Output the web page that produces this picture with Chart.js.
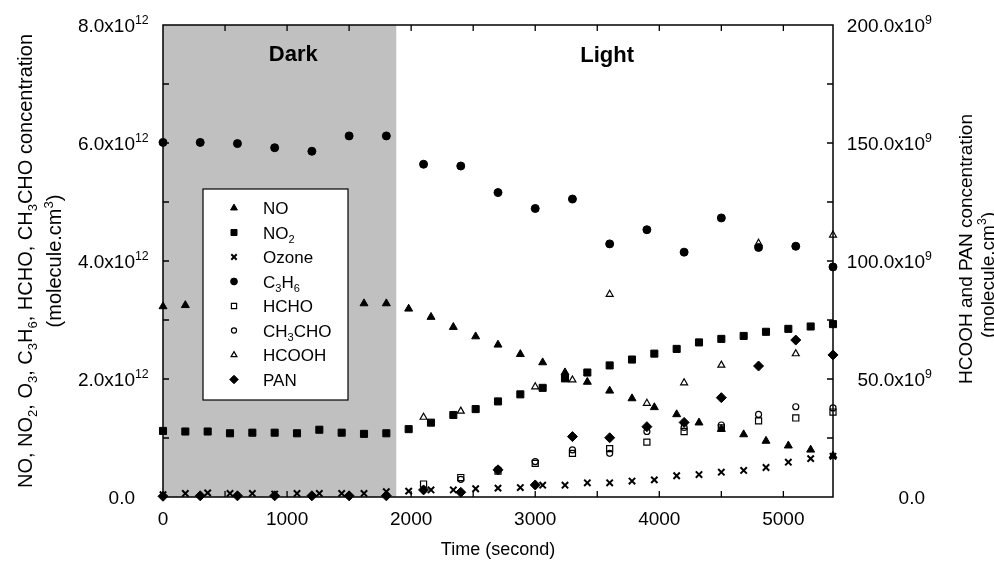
<!DOCTYPE html>
<html>
<head>
<meta charset="utf-8">
<script src="https://cdn.jsdelivr.net/npm/chart.js@4.4.1/dist/chart.umd.min.js"></script>
<style>
  html, body { margin: 0; padding: 0; background: #fff; }
</style>
</head>
<body>
<canvas id="chart" width="994" height="564"></canvas>
<script>
// times (s)
const timeNO = [0, 180, 1620, 1800, 1980, 2160, 2340, 2520, 2700, 2880, 3060, 3240, 3420, 3600, 3780, 3960, 4140, 4320, 4500, 4680, 4860, 5040, 5220, 5400];
const time180 = [0, 180, 360, 540, 720, 900, 1080, 1260, 1440, 1620, 1800, 1980, 2160, 2340, 2520, 2700, 2880, 3060, 3240, 3420, 3600, 3780, 3960, 4140, 4320, 4500, 4680, 4860, 5040, 5220, 5400];
const time300 = [0, 300, 600, 900, 1200, 1500, 1800, 2100, 2400, 2700, 3000, 3300, 3600, 3900, 4200, 4500, 4800, 5100, 5400];
const timeHCHO = [2100, 2400, 2700, 3000, 3300, 3600, 3900, 4200, 4500, 4800, 5100, 5400];
const timeCH3CHO = [2400, 2700, 3000, 3300, 3600, 3900, 4200, 4500, 4800, 5100, 5400];
const timeHCOOH = [2100, 2400, 3000, 3300, 3600, 3900, 4200, 4500, 4800, 5100, 5400];

// left axis, molecule/cm3
const no = [3.23e12, 3.25e12, 3.28e12, 3.28e12, 3.19e12, 3.05e12, 2.88e12, 2.72e12, 2.58e12, 2.42e12, 2.28e12, 2.11e12, 1.95e12, 1.80e12, 1.67e12, 1.52e12, 1.40e12, 1.26e12, 1.15e12, 1.06e12, 0.95e12, 0.87e12, 0.80e12, 0.70e12];
const no2 = [1.12e12, 1.11e12, 1.11e12, 1.08e12, 1.09e12, 1.09e12, 1.08e12, 1.14e12, 1.09e12, 1.07e12, 1.08e12, 1.15e12, 1.26e12, 1.39e12, 1.49e12, 1.62e12, 1.74e12, 1.85e12, 2.01e12, 2.11e12, 2.23e12, 2.33e12, 2.43e12, 2.51e12, 2.62e12, 2.68e12, 2.73e12, 2.80e12, 2.85e12, 2.89e12, 2.93e12];
const ozone = [0.04e12, 0.06e12, 0.07e12, 0.06e12, 0.06e12, 0.05e12, 0.06e12, 0.06e12, 0.06e12, 0.06e12, 0.09e12, 0.10e12, 0.12e12, 0.12e12, 0.14e12, 0.15e12, 0.16e12, 0.20e12, 0.20e12, 0.24e12, 0.24e12, 0.27e12, 0.29e12, 0.36e12, 0.38e12, 0.42e12, 0.45e12, 0.50e12, 0.59e12, 0.65e12, 0.69e12];
const c3h6 = [6.01e12, 6.01e12, 5.99e12, 5.92e12, 5.86e12, 6.12e12, 6.12e12, 5.64e12, 5.61e12, 5.16e12, 4.89e12, 5.05e12, 4.29e12, 4.53e12, 4.15e12, 4.73e12, 4.23e12, 4.25e12, 3.90e12];
const hcho = [0.22e12, 0.33e12, 0.44e12, 0.57e12, 0.74e12, 0.82e12, 0.93e12, 1.11e12, 1.17e12, 1.29e12, 1.34e12, 1.44e12];
const ch3cho = [0.30e12, 0.47e12, 0.60e12, 0.80e12, 0.74e12, 1.11e12, 1.18e12, 1.22e12, 1.40e12, 1.53e12, 1.51e12];

// right axis, molecule/cm3
const hcooh = [33.8e9, 36.4e9, 46.7e9, 49.6e9, 85.9e9, 39.7e9, 48.4e9, 55.9e9, 107.5e9, 60.7e9, 111e9];
const pan = [0.3e9, 0.5e9, 0.5e9, 0.5e9, 0.5e9, 0.5e9, 0.5e9, 3.0e9, 2.0e9, 11.5e9, 5.1e9, 25.6e9, 25.1e9, 29.8e9, 31.6e9, 42.1e9, 55.5e9, 66.5e9, 60.2e9];

const darkEnd = 1880;
const xTicks = [0, 1000, 2000, 3000, 4000, 5000];
const yTicks = [0, 2e12, 4e12, 6e12, 8e12];
const yTickText = [['0.0', ''], ['2.0x10', '12'], ['4.0x10', '12'], ['6.0x10', '12'], ['8.0x10', '12']];
const y2Ticks = [0, 50e9, 100e9, 150e9, 200e9];
const y2TickText = [['0.0', ''], ['50.0x10', '9'], ['100.0x10', '9'], ['150.0x10', '9'], ['200.0x10', '9']];

// legend labels: [text, 'sub'|'sup'|'']
const legendNames = [
  [['NO', '']],
  [['NO', ''], ['2', 'sub']],
  [['Ozone', '']],
  [['C', ''], ['3', 'sub'], ['H', ''], ['6', 'sub']],
  [['HCHO', '']],
  [['CH', ''], ['3', 'sub'], ['CHO', '']],
  [['HCOOH', '']],
  [['PAN', '']]
];

const FONT = '"Liberation Sans", Arial, Helvetica, sans-serif';

function series(label, xs, ys, style, r, filled, axis, bw) {
  return {
    label: label,
    data: xs.map((t, i) => ({ x: t, y: ys[i] })),
    yAxisID: axis,
    pointStyle: style,
    pointRadius: r,
    pointBackgroundColor: filled ? '#000' : 'rgba(0,0,0,0)',
    pointBorderColor: '#000',
    pointBorderWidth: bw,
    showLine: false,
    clip: false
  };
}

// text made of pieces with sub/superscripts, from x (left), baseline y
function richWidth(ctx, parts, size) {
  let w = 0;
  parts.forEach(p => {
    ctx.font = (p[1] ? size * 0.65 : size) + 'px ' + FONT;
    w += ctx.measureText(p[0]).width;
  });
  return w;
}
function drawRich(ctx, parts, x, y, size, weight) {
  ctx.textAlign = 'left';
  ctx.textBaseline = 'alphabetic';
  parts.forEach(p => {
    const s = p[1] ? size * 0.65 : size;
    ctx.font = (weight || '') + ' ' + s + 'px ' + FONT;
    let dy = 0;
    if (p[1] === 'sub') dy = size * 0.25;
    if (p[1] === 'sup') dy = -size * 0.42;
    ctx.fillText(p[0], x, y + dy);
    x += ctx.measureText(p[0]).width;
  });
}
function drawRichCentered(ctx, parts, cx, cy, size, rotate) {
  ctx.save();
  ctx.translate(cx, cy);
  if (rotate) ctx.rotate(-Math.PI / 2);
  const w = richWidth(ctx, parts, size);
  drawRich(ctx, parts, -w / 2, size * 0.36, size);
  ctx.restore();
}

const framePlugin = {
  id: 'framePlugin',
  beforeDatasetsDraw(chart) {
    const { ctx, chartArea: a, scales } = chart;
    ctx.save();
    ctx.fillStyle = '#c0c0c0';
    const xe = scales.x.getPixelForValue(darkEnd);
    ctx.fillRect(a.left, a.top, xe - a.left, a.bottom - a.top);
    ctx.restore();
  },
  afterDatasetsDraw(chart) {
    const { ctx, chartArea: a, scales } = chart;
    const x = scales.x, y = scales.y, y2 = scales.y2;
    ctx.save();

    // legend box (covers points behind it, like the original)
    const lx = a.left + 40, ly = a.top + 164, lw = 145, lh = 211;
    ctx.fillStyle = '#fff';
    ctx.fillRect(lx, ly, lw, lh);
    ctx.strokeStyle = '#000';
    ctx.lineWidth = 1.2;
    ctx.strokeRect(lx, ly, lw, lh);
    chart.data.datasets.forEach((ds, i) => {
      const ry = ly + 19 + i * 24.5;
      ctx.fillStyle = ds.pointBackgroundColor;
      ctx.strokeStyle = '#000';
      ctx.lineWidth = ds.pointBorderWidth;
      Chart.helpers.drawPoint(ctx, { pointStyle: ds.pointStyle, radius: ds.pointRadius * 0.85, borderWidth: ds.pointBorderWidth, rotation: 0 }, lx + 31, ry);
      ctx.fillStyle = '#000';
      drawRich(ctx, legendNames[i], lx + 60, ry + 6, 17);
    });

    // frame
    ctx.strokeStyle = '#000';
    ctx.lineWidth = 1.5;
    ctx.strokeRect(a.left, a.top, a.right - a.left, a.bottom - a.top);

    // inward ticks
    ctx.lineWidth = 1.3;
    ctx.beginPath();
    for (let v = 500; v < 5400; v += 500) {
      const px = x.getPixelForValue(v);
      ctx.moveTo(px, a.bottom); ctx.lineTo(px, a.bottom - 6);
      ctx.moveTo(px, a.top); ctx.lineTo(px, a.top + 6);
    }
    for (let v = 1e12; v < 8e12; v += 1e12) {
      const py = y.getPixelForValue(v);
      ctx.moveTo(a.left, py); ctx.lineTo(a.left + 6, py);
    }
    for (let v = 25e9; v < 200e9; v += 25e9) {
      const py = y2.getPixelForValue(v);
      ctx.moveTo(a.right, py); ctx.lineTo(a.right - 6, py);
    }
    ctx.stroke();

    // tick labels
    ctx.fillStyle = '#000';
    const ts = 19;
    xTicks.forEach(v => {
      const t = String(v);
      ctx.font = ts + 'px ' + FONT;
      const w = ctx.measureText(t).width;
      drawRich(ctx, [[t, '']], x.getPixelForValue(v) - w / 2, 525, ts);
    });
    yTicks.forEach((v, i) => {
      const base = yTickText[i];
      ctx.font = ts + 'px ' + FONT;
      const w = ctx.measureText(base[0]).width;
      const py = y.getPixelForValue(v) + 7;
      drawRich(ctx, [[base[0], ''], [base[1], 'sup']], a.left - 28 - w, py, ts);
    });
    y2Ticks.forEach((v, i) => {
      const base = y2TickText[i];
      ctx.font = ts + 'px ' + FONT;
      const w = ctx.measureText(base[0]).width;
      const py = y2.getPixelForValue(v) + 7;
      drawRich(ctx, [[base[0], ''], [base[1], 'sup']], 925 - w, py, ts);
    });

    // region labels
    ctx.font = 'bold 22px ' + FONT;
    ctx.textAlign = 'center';
    ctx.textBaseline = 'middle';
    ctx.fillText('Dark', x.getPixelForValue(1050), y.getPixelForValue(7.5e12));
    ctx.fillText('Light', x.getPixelForValue(3580), y.getPixelForValue(7.48e12));

    // axis titles
    const cyPlot = (a.top + a.bottom) / 2;
    drawRichCentered(ctx, [['Time (second)', '']], (a.left + a.right) / 2, 549, 18, false);
    drawRichCentered(ctx, [['NO, NO', ''], ['2', 'sub'], [', O', ''], ['3', 'sub'], [', C', ''], ['3', 'sub'], ['H', ''], ['6', 'sub'], [', HCHO, CH', ''], ['3', 'sub'], ['CHO concentration', '']], 25, cyPlot, 20, true);
    drawRichCentered(ctx, [['(molecule.cm', ''], ['3', 'sup'], [')', '']], 54, cyPlot, 20, true);
    drawRichCentered(ctx, [['HCOOH and PAN concentration', '']], 965, cyPlot - 12, 19, true);
    drawRichCentered(ctx, [['(molecule.cm', ''], ['3', 'sup'], [')', '']], 987, cyPlot + 14, 19, true);

    ctx.restore();
  }
};

new Chart(document.getElementById('chart'), {
  type: 'scatter',
  data: {
    datasets: [
      series('NO', timeNO, no, 'triangle', 4.6, true, 'y', 1),
      series('NO2', time180, no2, 'rect', 5, true, 'y', 1),
      series('Ozone', time180, ozone, 'crossRot', 4.5, false, 'y', 2),
      series('C3H6', time300, c3h6, 'circle', 4, true, 'y', 1),
      series('HCHO', timeHCHO, hcho, 'rect', 4.3, false, 'y', 1.2),
      series('CH3CHO', timeCH3CHO, ch3cho, 'circle', 3, false, 'y', 1.2),
      series('HCOOH', timeHCOOH, hcooh, 'triangle', 4, false, 'y2', 1.2),
      series('PAN', time300, pan, 'rectRot', 5, true, 'y2', 1)
    ]
  },
  options: {
    responsive: false,
    animation: false,
    layout: { padding: { top: 25, left: 0, right: 0, bottom: 0 } },
    plugins: { legend: { display: false }, tooltip: { enabled: false } },
    scales: {
      x: {
        type: 'linear', min: 0, max: 5400, position: 'bottom',
        ticks: { display: false }, grid: { display: false }, border: { display: false },
        afterFit(s) { s.height = 67; }
      },
      y: {
        type: 'linear', min: 0, max: 8e12, position: 'left',
        ticks: { display: false }, grid: { display: false }, border: { display: false },
        afterFit(s) { s.width = 163; }
      },
      y2: {
        type: 'linear', min: 0, max: 200e9, position: 'right',
        ticks: { display: false }, grid: { display: false }, border: { display: false },
        afterFit(s) { s.width = 161; }
      }
    }
  },
  plugins: [framePlugin]
});
</script>
</body>
</html>
